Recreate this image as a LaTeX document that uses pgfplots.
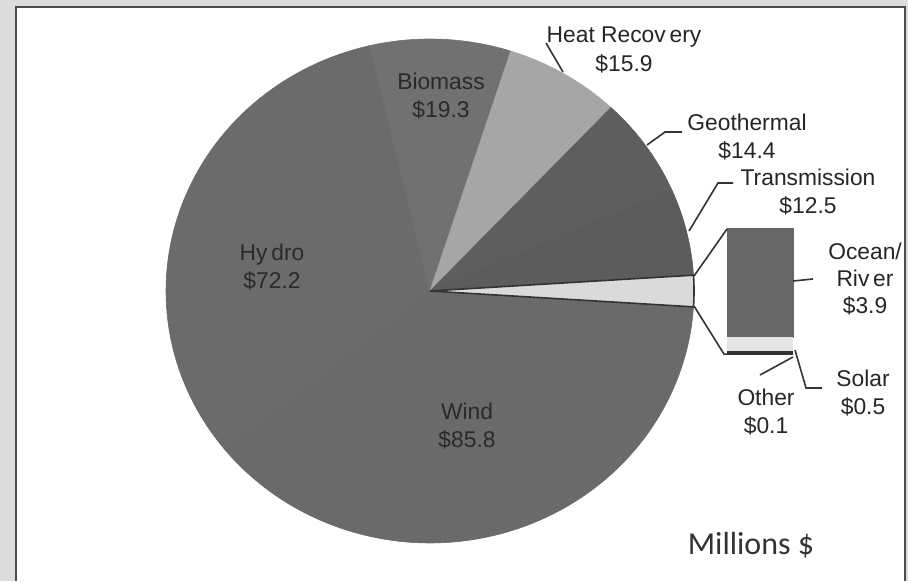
\documentclass[border=0pt]{standalone}
\usepackage{pgfplots}
\pgfplotsset{compat=1.18}
\usepackage{pgfplotstable}
\usepackage{fontspec}
\setmainfont{Liberation Sans}
\newfontfamily\calibri{Carlito}

\definecolor{bgout}{HTML}{DCDCDC}
\definecolor{framec}{HTML}{4D4D4D}
\definecolor{cWind}{HTML}{6A6A6A}
\definecolor{cHydro}{HTML}{6B6B6B}
\definecolor{cBio}{HTML}{717171}
\definecolor{cHeat}{HTML}{A6A6A6}
\definecolor{cGeo}{HTML}{5E5E5E}
\definecolor{cTrans}{HTML}{5C5C5C}
\definecolor{cOth}{HTML}{DADADA}
\definecolor{cOcean}{HTML}{686868}
\definecolor{cSolar}{HTML}{E6E6E6}
\definecolor{lbl}{HTML}{262626}
\definecolor{inlbl}{HTML}{2A2A2A}
\definecolor{leader}{HTML}{333333}

% main pie (the small ones grouped into "Other")
\pgfplotstableread{
label value
Other 4.5
Transmission 12.5
Geothermal 14.4
HeatRecovery 15.9
Biomass 19.3
Hydro 72.2
Wind 85.8
}\pietable
% secondary bar
\pgfplotstableread{
label value
Ocean 3.9
Solar 0.5
Other 0.1
}\bartable

\newcommand\getv[3]{\pgfplotstablegetelem{#2}{value}\of#1\global\let#3\pgfplotsretval}
\getv\pietable{0}\vOth
\getv\pietable{1}\vTrans
\getv\pietable{2}\vGeo
\getv\pietable{3}\vHeat
\getv\pietable{4}\vBio
\getv\pietable{5}\vHydro
\getv\pietable{6}\vWind
\getv\bartable{0}\vOcean
\getv\bartable{1}\vSolar
\getv\bartable{2}\vOtherS

\pgfmathsetmacro\total{\vOth+\vTrans+\vGeo+\vHeat+\vBio+\vHydro+\vWind}
\pgfmathsetmacro\aA{-0.5*\vOth/\total*360}
\pgfmathsetmacro\aB{\aA+\vOth/\total*360}
\pgfmathsetmacro\aC{\aB+\vTrans/\total*360}
\pgfmathsetmacro\aD{\aC+\vGeo/\total*360}
\pgfmathsetmacro\aE{\aD+\vHeat/\total*360}
\pgfmathsetmacro\aF{\aE+\vBio/\total*360}
\pgfmathsetmacro\aG{\aF+\vHydro/\total*360}
\pgfmathsetmacro\aH{\aG+\vWind/\total*360}

\pgfmathsetmacro\bTop{229}
\pgfmathsetmacro\bScale{27.8}
\pgfmathsetmacro\yO{\bTop+\vOcean*\bScale}
\pgfmathsetmacro\yS{\yO+\vSolar*\bScale}
\pgfmathsetmacro\yX{\yS+\vOtherS*\bScale}

\newcommand\piewedge[4][]{%
  \addplot[fill=#2, draw=#2, line width=0.3pt, #1, domain=#3:#4, samples=90, variable=\t]
    ({430+264*cos(\t)}, {291-252*sin(\t)}) -- (axis cs:430,291) -- cycle;
}

\tikzset{lab/.style={align=center, font=\fontsize{11.4}{14.2}\selectfont, inner sep=0pt}}

\begin{document}
\begin{tikzpicture}
\begin{axis}[hide axis, scale only axis, width=454pt, height=290.5pt,
  xmin=0, xmax=908, ymin=0, ymax=581, y dir=reverse, clip=false]
  % background
  \fill[bgout] (axis cs:0,0) rectangle (axis cs:908,581);
  \fill[white] (axis cs:16,7) rectangle (axis cs:906,581);
  \draw[framec, line width=1.1pt] (axis cs:16,581) -- (axis cs:16,7) -- (axis cs:905,7) -- (axis cs:905,581);

  % pie wedges
  \piewedge{cWind}{\aG}{\aH}
  \piewedge{cHydro}{\aF}{\aG}
  \piewedge{cBio}{\aE}{\aF}
  \piewedge{cHeat}{\aD}{\aE}
  \piewedge{cGeo}{\aC}{\aD}
  \piewedge{cTrans}{\aB}{\aC}
  \piewedge[draw=leader, line width=0.8pt]{cOth}{\aA}{\aB}

  % secondary bar
  \addplot[fill=cOcean, draw=black!60, line width=0.5pt] coordinates {(727,\bTop) (793,\bTop) (793,\yO) (727,\yO)} -- cycle;
  \addplot[fill=cSolar, draw=none] coordinates {(727,\yO) (793,\yO) (793,\yS) (727,\yS)} -- cycle;
  \addplot[fill=leader, draw=none] coordinates {(727,\yS) (793,\yS) (793,\yX) (727,\yX)} -- cycle;

  % connector lines
  \draw[leader, line width=0.8pt] (axis cs:694,276) -- (axis cs:727,\bTop);
  \draw[leader, line width=0.8pt] (axis cs:694,306) -- (axis cs:724,\yX) -- (axis cs:793,\yX);

  % leader lines
  \draw[leader, line width=0.8pt] (axis cs:563,72) -- (axis cs:546,43);
  \draw[leader, line width=0.8pt] (axis cs:647,145) -- (axis cs:665,132) -- (axis cs:682,132);
  \draw[leader, line width=0.8pt] (axis cs:689,231) -- (axis cs:718,183) -- (axis cs:733,183);
  \draw[leader, line width=0.8pt] (axis cs:793,281) -- (axis cs:813,279);
  \draw[leader, line width=0.8pt] (axis cs:795,350) -- (axis cs:806,388) -- (axis cs:822,388);
  \draw[leader, line width=0.8pt] (axis cs:760,375) -- (axis cs:793,357);

  % labels inside pie
  \node[lab, text=inlbl] at (axis cs:441,96) {Biomass\\\$19.3};
  \node[lab, text=inlbl] at (axis cs:272,267) {Hy\,dro\\\$72.2};
  \node[lab, text=inlbl] at (axis cs:467,426) {Wind\\\$85.8};
  % labels outside
  \node[lab, text=lbl] at (axis cs:624,50) {Heat Recov\,ery\\\$15.9};
  \node[lab, text=lbl] at (axis cs:747,137) {Geothermal\\\$14.4};
  \node[lab, text=lbl] at (axis cs:808,192) {Transmission\\\$12.5};
  \node[lab, text=lbl, font=\fontsize{11.4}{13.4}\selectfont] at (axis cs:865,279) {Ocean/\\Riv\,er\\\$3.9};
  \node[lab, text=lbl] at (axis cs:863,393) {Solar\\\$0.5};
  \node[lab, text=lbl] at (axis cs:766,412) {Other\\\$0.1};
  \node[text=black!80, inner sep=0pt, font=\calibri\fontsize{16}{19}\selectfont] at (axis cs:751,545) {Millions \$};
\end{axis}
\end{tikzpicture}
\end{document}
